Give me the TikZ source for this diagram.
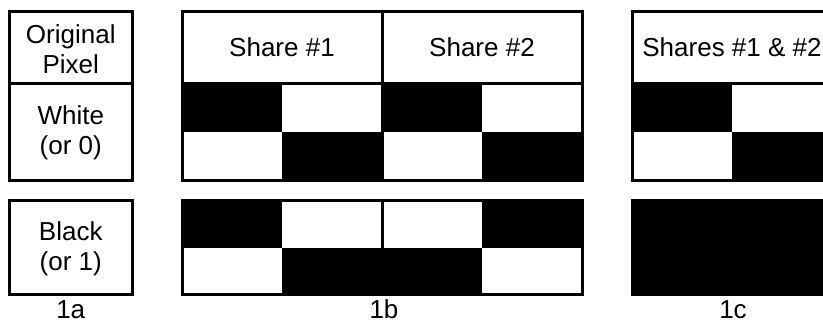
\documentclass[tikz,border=0pt]{standalone}
\usepackage{fontspec}
\setmainfont{Liberation Sans}
\usepackage{tikz}

\tikzset{
  cell/.style={minimum width=100pt, minimum height=48.5pt, inner sep=0pt, outer sep=0pt},
  lowcell/.style={cell, minimum height=47pt},
  blk/.style={fill=black},
  frame/.style={line width=3pt},
  head/.style={minimum width=200pt, minimum height=71.5pt, inner sep=0pt, outer sep=0pt, align=center},
  sidebox/.style={minimum width=122.5pt, inner sep=0pt, outer sep=0pt, align=center},
  caption/.style={anchor=base, inner sep=0pt}
}

\begin{document}
\begin{tikzpicture}[x=1pt, y=-1pt, font=\fontsize{26}{30}\selectfont]
    \useasboundingbox (0,0) rectangle (823,324);

    % Original pixel column
    \node[sidebox, minimum height=71.5pt] (orig) at (70.75,49) {Original\\Pixel};
    \node[sidebox, minimum height=97pt] (white) at (70.75,133) {White\\(or 0)};
    \node[sidebox, minimum height=94pt] (black) at (70.75,249) {Black\\(or 1)};

    % Share headers
    \node[head] (sh1) at (282,47.25) {Share \#1};
    \node[head] (sh2) at (482,47.25) {Share \#2};
    \node[head] (sh12) at (732,47.25) {Shares \#1 \& \#2};

    % White pixel: shares
    \node[cell, blk] (w11) at (232,107.25) {};
    \node[cell] (w12) at (332,107.25) {};
    \node[cell, blk] (w13) at (432,107.25) {};
    \node[cell] (w14) at (532,107.25) {};
    \node[cell] (w21) at (232,155.75) {};
    \node[cell, blk] (w22) at (332,155.75) {};
    \node[cell] (w23) at (432,155.75) {};
    \node[cell, blk] (w24) at (532,155.75) {};

    % White pixel: stacked
    \node[cell, blk] (ws11) at (682,107.25) {};
    \node[cell] (ws12) at (782,107.25) {};
    \node[cell] (ws21) at (682,155.75) {};
    \node[cell, blk] (ws22) at (782,155.75) {};

    % Black pixel: shares
    \node[lowcell, blk] (b11) at (232,224) {};
    \node[lowcell] (b12) at (332,224) {};
    \node[lowcell] (b13) at (432,224) {};
    \node[lowcell, blk] (b14) at (532,224) {};
    \node[lowcell] (b21) at (232,271) {};
    \node[lowcell, blk] (b22) at (332,271) {};
    \node[lowcell, blk] (b23) at (432,271) {};
    \node[lowcell] (b24) at (532,271) {};

    % Black pixel: stacked
    \node[lowcell, blk] (bs11) at (682,224) {};
    \node[lowcell, blk] (bs12) at (782,224) {};
    \node[lowcell, blk] (bs21) at (682,271) {};
    \node[lowcell, blk] (bs22) at (782,271) {};

    % Frames
    \draw[frame] (orig.north west |- 0,11.5) rectangle (white.south east |- 0,180);
    \draw[frame] (orig.west |- 0,83) -- (orig.east |- 0,83);
    \draw[frame] (black.west |- 0,200.5) rectangle (black.east |- 0,294.5);

    \draw[frame] (sh1.north west) rectangle (w24.south east);
    \draw[frame] (sh1.south west) -- (sh2.south east);
    \draw[frame] (sh2.north west) -- (w23.south west);
    \draw[frame] (b11.north west) rectangle (b24.south east);
    \draw[frame] (b13.north west) -- (b23.south west);

    \draw[frame] (sh12.north west) rectangle (ws22.south east);
    \draw[frame] (sh12.south west) -- (sh12.south east);
    \draw[frame] (bs11.north west) rectangle (bs22.south east);

    % Captions
    \node[caption] (capa) at (70.75,318) {1a};
    \node[caption] (capb) at (384,318) {1b};
    \node[caption] (capc) at (733,318) {1c};
\end{tikzpicture}
\end{document}
